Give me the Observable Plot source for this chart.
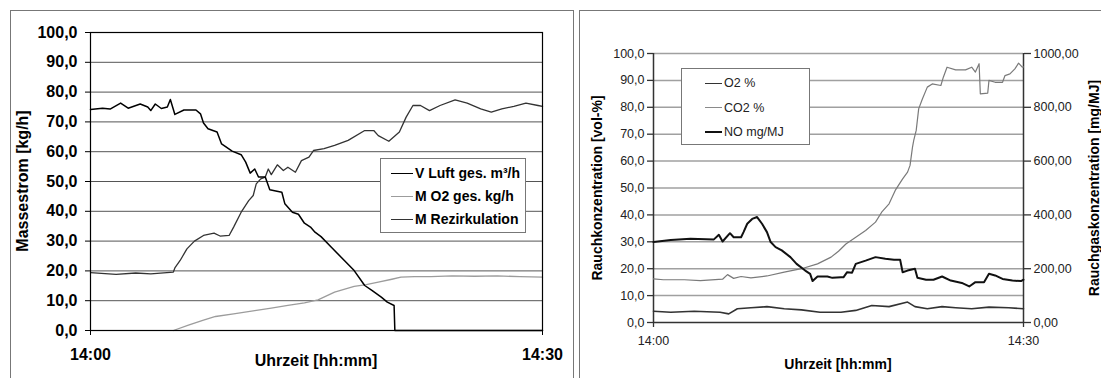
<!DOCTYPE html>
<html>
<head>
<meta charset="utf-8">
<script src="https://cdn.jsdelivr.net/npm/d3@7"></script>
<script src="https://cdn.jsdelivr.net/npm/@observablehq/plot@0.6"></script>
<style>
  html, body { margin: 0; padding: 0; background: #fff; }
  #root { position: relative; width: 1101px; height: 378px; overflow: hidden; background: #fff;
          font-family: 'Liberation Sans', Arial, sans-serif; }
  .abs { position: absolute; }
  .panel { position: absolute; border-top: 1px solid #777; border-left: 1px solid #777; }
  .title { position: absolute; white-space: nowrap; transform: translate(-50%, -50%); font-weight: bold; color: #000; }
  .rot { transform: translate(-50%, -50%) rotate(-90deg); }
  .legend { position: absolute; background: #fff; border: 1px solid #777; box-sizing: border-box; }
  .entry { position: absolute; white-space: nowrap; display: flex; align-items: center; transform: translateY(-50%); }
  .swatch { display: inline-block; }
  svg { position: absolute; }
</style>
</head>
<body>
<div id="root"></div>
<script>
// ---------- DATA (minutes after 14:00, values) ----------
const timeTicks = [0, 30];
const timeLabels = ["14:00", "14:30"];
const massTicks = [0, 10, 20, 30, 40, 50, 60, 70, 80, 90, 100];
const pctTicks = [0, 10, 20, 30, 40, 50, 60, 70, 80, 90, 100];
const mgTicks = [0, 200, 400, 600, 800, 1000];

const leftSeries = ["V Luft ges. m³/h", "M O2 ges. kg/h", "M Rezirkulation"];
const rightSeries = ["O2 %", "CO2 %", "NO mg/MJ"];

const vLuft = [[0,74.2],[0.8,74.6],[1.3,74.3],[2.0,76.3],[2.5,74.6],[3.3,76],[3.8,75],[4.0,73.8],[4.3,76],[4.7,74.5],[5.1,75],[5.3,77.5],[5.6,72.5],[6.2,74],[7.0,74],[7.3,72.7],[7.5,69.6],[7.8,67.7],[8.4,66.6],[8.7,62.6],[9.4,60.2],[10.0,59],[10.3,56.5],[10.6,52.8],[10.9,54.2],[11.15,51.5],[11.6,51.5],[11.9,47.2],[12.7,46.4],[12.9,42.5],[13.4,39.7],[13.8,39],[14.2,36],[14.6,34.7],[14.9,33],[15.3,31.5],[15.97,28],[16.85,23.5],[17.5,20.1],[18.2,15.1],[18.7,13.4],[19.3,11.2],[19.7,9.5],[20.15,8.4],[20.2,0],[30,0]];

const mO2 = [[5.5,0],[6.5,1.8],[7.5,3.5],[8.3,4.7],[9.5,5.6],[10.9,6.7],[12,7.5],[13.1,8.4],[14.2,9.3],[15.1,10.3],[16.2,12.9],[17.5,14.8],[18.3,15.4],[19.1,16.2],[20.0,17.2],[20.6,17.9],[21.5,18.1],[22.6,18.1],[24,18.3],[25.5,18.2],[27,18.3],[28.5,18.1],[30,17.9]];

const rezirk = [[0,19.4],[1.7,18.8],[3.0,19.3],[4.0,19.0],[5.5,19.6],[5.6,21],[5.95,23.5],[6.4,27.4],[6.9,30],[7.5,31.9],[8.2,32.7],[8.6,31.7],[9.2,31.9],[9.5,34.7],[10.0,39.7],[10.5,43.6],[10.8,45.3],[11.0,49.2],[11.3,50.9],[11.6,51.5],[11.8,54.2],[12.0,52.3],[12.4,55.6],[12.8,53.7],[13.1,54.8],[13.6,53.1],[14.0,57],[14.5,58.2],[14.8,60.4],[15.5,61],[16.2,62.1],[17.1,63.8],[18.2,67.1],[18.8,67.1],[19.1,65.4],[19.8,63.5],[20.5,66.6],[20.95,71.6],[21.4,75.5],[21.9,75.5],[22.5,73.8],[23.2,75.5],[24.2,77.4],[25.0,76.3],[25.9,74.4],[26.6,73.3],[27.3,74.4],[28.1,75.2],[28.9,76.3],[29.7,75.5],[30,75.2]];

const o2 = [[0,4.2],[1.4,3.8],[3.3,4.2],[5.4,3.8],[6.1,3.2],[6.8,5.1],[7.9,5.5],[9.2,5.9],[10.6,5.1],[12.0,4.7],[13.5,3.8],[15.2,3.8],[16.4,4.5],[17.7,6.3],[19.1,5.9],[20.6,7.6],[21.2,5.9],[22.2,5.1],[23.4,5.9],[24.5,5.5],[25.8,5.1],[27.2,5.7],[28.8,5.5],[30,5.1]];

const co2 = [[0,16.2],[0.8,15.9],[2.5,15.9],[3.8,15.6],[5.6,16.1],[6.0,17.8],[6.5,16.4],[7.1,17.1],[7.9,16.6],[9.2,17.3],[10.6,18.7],[12.0,20],[13.3,21.8],[14.4,24.3],[15.0,26.5],[15.6,29.2],[16.4,31.7],[17.2,34.2],[18.0,37.3],[18.5,41],[19.1,44.1],[19.6,49.1],[20.2,53.4],[20.6,55.9],[20.8,58.4],[21.0,65.2],[21.1,67.7],[21.3,71.4],[21.5,79.4],[21.8,83.1],[22.2,87.5],[22.6,88.7],[23.3,88.1],[23.5,91.2],[23.8,94.9],[24.5,93.9],[25.3,93.9],[25.8,94.9],[26.1,93.1],[26.4,96.2],[26.5,85],[27.1,85.3],[27.2,90],[27.7,89.3],[28.3,89.3],[28.5,91.8],[28.9,92.4],[29.3,94.3],[29.6,96.4],[29.9,94.9],[30,95]];

const noMg = [[0,299],[1.4,307],[3.0,311],[4.9,309],[5.3,326],[5.6,301],[6.2,332],[6.5,317],[7.1,317],[7.3,336],[7.6,367],[8.0,385],[8.4,392],[8.8,367],[9.2,336],[9.5,299],[9.9,280],[10.4,268],[11.1,243],[11.6,218],[12.3,193],[12.7,181],[12.9,154],[13.3,171],[14.1,171],[14.5,166],[15.2,168],[15.4,168],[15.7,187],[16.1,185],[16.4,218],[17.2,230],[18.0,243],[18.8,237],[19.5,233],[20.0,233],[20.2,187],[20.6,193],[21.2,200],[21.4,166],[22.1,159],[22.7,159],[23.4,171],[24.1,156],[25.0,147],[25.6,134],[26.1,150],[26.8,150],[27.2,181],[27.7,175],[28.3,162],[29.1,156],[29.8,154],[30,159]];

// ---------- helpers ----------
const fmt1 = d => d.toFixed(1).replace(".", ",");
const fmt2 = d => d.toFixed(2).replace(".", ",");
const fmtTime = d => timeLabels[timeTicks.indexOf(d)];
const FONT = "'Liberation Sans', Arial, sans-serif";
const root = document.getElementById("root");

function add(html) { root.insertAdjacentHTML("beforeend", html); }

// panel borders
add(`<div class="panel" style="left:10px;top:10px;width:562px;height:400px;border-right:1px solid #777"></div>`);
add(`<div class="panel" style="left:579px;top:10px;width:600px;height:400px"></div>`);

// ---------- LEFT CHART ----------
const left = Plot.plot({
  width: 563, height: 368,
  marginLeft: 80, marginRight: 31, marginTop: 22, marginBottom: 48,
  x: {domain: [0, 30], label: null},
  y: {domain: [0, 100], label: null},
  style: {fontFamily: FONT, fontSize: "16px", fontWeight: "bold", background: "transparent", color: "#000", overflow: "visible"},
  marks: [
    Plot.gridY(massTicks.slice(1, -1), {stroke: "#555", strokeOpacity: 1}),
    Plot.axisY(massTicks, {tickSize: 5, tickPadding: 8, tickFormat: fmt1, label: null, stroke: "#000"}),
    Plot.axisX(timeTicks, {tickSize: 5, tickPadding: 13, tickFormat: fmtTime, label: null, stroke: "#000"}),
    Plot.line(mO2, {x: d => d[0], y: d => d[1], stroke: "#9c9c9c", strokeWidth: 1.3}),
    Plot.line(rezirk, {x: d => d[0], y: d => d[1], stroke: "#333", strokeWidth: 1.3}),
    Plot.line(vLuft, {x: d => d[0], y: d => d[1], stroke: "#000", strokeWidth: 1.5}),
    Plot.frame({stroke: "#000", strokeWidth: 1.2})
  ]
});
left.style.left = "10px"; left.style.top = "10px";
root.appendChild(left);

// ---------- RIGHT CHART ----------
const right = Plot.plot({
  width: 522, height: 368,
  marginLeft: 74, marginRight: 78, marginTop: 43, marginBottom: 56,
  x: {domain: [0, 30], label: null},
  y: {domain: [0, 100], label: null},
  style: {fontFamily: FONT, fontSize: "12.5px", background: "transparent", color: "#222", overflow: "visible"},
  marks: [
    Plot.gridY(pctTicks.slice(1), {stroke: "#a0a0a0", strokeOpacity: 1, strokeWidth: 1.5}),
    Plot.axisY(pctTicks, {anchor: "left", tickSize: 6, tickPadding: 3, tickFormat: fmt1, label: null, stroke: "#333", strokeWidth: 1.3}),
    Plot.axisY(mgTicks.map(d => d / 10), {anchor: "right", tickSize: 7, tickPadding: 3, tickFormat: d => fmt2(d * 10), label: null, stroke: "#333", strokeWidth: 1.3}),
    Plot.axisX(timeTicks, {tickSize: 5, tickPadding: 9, tickFormat: fmtTime, label: null, stroke: "#333", strokeWidth: 1.3}),
    Plot.ruleX([0, 30], {stroke: "#333", strokeWidth: 1.5}),
    Plot.ruleY([0], {stroke: "#333", strokeWidth: 1.5}),
    Plot.line(co2, {x: d => d[0], y: d => d[1], stroke: "#7a7a7a", strokeWidth: 1.2}),
    Plot.line(o2, {x: d => d[0], y: d => d[1], stroke: "#333", strokeWidth: 1.6}),
    Plot.line(noMg, {x: d => d[0], y: d => d[1] / 10, stroke: "#111", strokeWidth: 2})
  ]
});
right.style.left = "579px"; right.style.top = "10px";
root.appendChild(right);

// ---------- TITLES ----------
add(`<div class="title rot" style="left:23px;top:181px;font-size:16px">Massestrom [kg/h]</div>`);
add(`<div class="title" style="left:316px;top:361px;font-size:16px">Uhrzeit [hh:mm]</div>`);
add(`<div class="title rot" style="left:597px;top:188px;font-size:14px">Rauchkonzentration [vol-%]</div>`);
add(`<div class="title rot" style="left:1094px;top:188px;font-size:14px">Rauchgaskonzentration [mg/MJ]</div>`);
add(`<div class="title" style="left:838px;top:364px;font-size:14px">Uhrzeit [hh:mm]</div>`);

// ---------- LEGENDS ----------
const leftStyles = [["#000", 1.5], ["#9c9c9c", 1.3], ["#333", 1.5]];
let lh = `<div class="legend" style="left:380px;top:158px;width:146px;height:75px">`;
leftSeries.forEach((s, i) => {
  lh += `<div class="entry" style="left:10px;top:${14 + i * 23}px;font-size:14px;font-weight:bold">
    <span class="swatch" style="width:22px;border-top:${leftStyles[i][1]}px solid ${leftStyles[i][0]};margin-right:2px"></span>${s}</div>`;
});
lh += `</div>`;
add(lh);

const rightStyles = [["#333", 1.6], ["#8a8a8a", 1.1], ["#111", 2.2]];
let rh = `<div class="legend" style="left:681px;top:68px;width:129px;height:77px">`;
rightSeries.forEach((s, i) => {
  rh += `<div class="entry" style="left:23px;top:${14 + i * 24.5}px;font-size:12.5px;color:#222">
    <span class="swatch" style="width:17px;border-top:${rightStyles[i][1]}px solid ${rightStyles[i][0]};margin-right:2px"></span>${s}</div>`;
});
rh += `</div>`;
add(rh);
</script>
</body>
</html>
